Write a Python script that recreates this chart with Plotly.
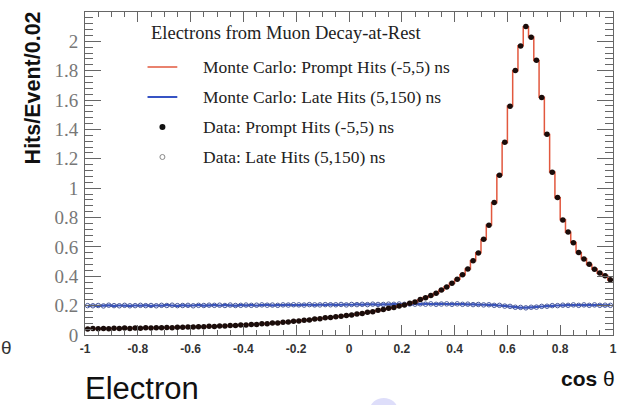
import plotly.graph_objects as go

# cos(theta) binning: 100 bins of width 0.02 on [-1, 1]
bin_centers = [round(-0.99 + 0.02 * i, 2) for i in range(100)]

# Monte Carlo, prompt hits (-5,5) ns  [hits/event/0.02]
mc_prompt = [
    0.042, 0.043, 0.043, 0.044, 0.044, 0.045, 0.045, 0.046, 0.046, 0.047,
    0.047, 0.048, 0.048, 0.049, 0.050, 0.050, 0.051, 0.052, 0.053, 0.054,
    0.055, 0.056, 0.057, 0.058, 0.059, 0.060, 0.062, 0.063, 0.065, 0.067,
    0.069, 0.071, 0.073, 0.075, 0.078, 0.080, 0.083, 0.086, 0.089, 0.093,
    0.096, 0.100, 0.104, 0.108, 0.112, 0.116, 0.120, 0.124, 0.128, 0.132,
    0.137, 0.142, 0.148, 0.154, 0.160, 0.167, 0.174, 0.181, 0.189, 0.197,
    0.206, 0.215, 0.225, 0.240, 0.255, 0.268, 0.285, 0.305, 0.328, 0.352,
    0.380, 0.410, 0.450, 0.505, 0.560, 0.650, 0.750, 0.900, 1.090, 1.310,
    1.560, 1.800, 1.970, 2.100, 2.030, 1.870, 1.620, 1.365, 1.110, 0.935,
    0.785, 0.700, 0.630, 0.560, 0.520, 0.480, 0.450, 0.420, 0.405, 0.375,
]

# Data, prompt hits (-5,5) ns
data_prompt = [
    0.041, 0.044, 0.042, 0.045, 0.043, 0.046, 0.044, 0.047, 0.045, 0.048,
    0.046, 0.049, 0.047, 0.050, 0.049, 0.051, 0.050, 0.053, 0.052, 0.055,
    0.054, 0.057, 0.056, 0.059, 0.058, 0.061, 0.061, 0.064, 0.064, 0.068,
    0.068, 0.072, 0.072, 0.076, 0.077, 0.081, 0.082, 0.087, 0.088, 0.094,
    0.095, 0.101, 0.103, 0.109, 0.111, 0.117, 0.119, 0.125, 0.127, 0.133,
    0.136, 0.143, 0.147, 0.155, 0.159, 0.168, 0.173, 0.182, 0.188, 0.198,
    0.205, 0.216, 0.224, 0.241, 0.254, 0.269, 0.284, 0.306, 0.327, 0.353,
    0.379, 0.411, 0.449, 0.506, 0.559, 0.652, 0.748, 0.902, 1.088, 1.312,
    1.558, 1.802, 1.968, 2.102, 2.028, 1.872, 1.618, 1.367, 1.108, 0.937,
    0.783, 0.702, 0.628, 0.562, 0.518, 0.482, 0.448, 0.422, 0.403, 0.377,
]

# Monte Carlo, late hits (5,150) ns
mc_late = [
    0.198, 0.201, 0.199, 0.200, 0.202, 0.199, 0.201, 0.200, 0.198, 0.201,
    0.200, 0.202, 0.199, 0.201, 0.200, 0.203, 0.201, 0.199, 0.202, 0.200,
    0.201, 0.203, 0.200, 0.202, 0.204, 0.201, 0.203, 0.202, 0.200, 0.203,
    0.202, 0.204, 0.201, 0.203, 0.205, 0.202, 0.204, 0.203, 0.205, 0.204,
    0.203, 0.205, 0.206, 0.204, 0.206, 0.205, 0.207, 0.205, 0.206, 0.207,
    0.206, 0.208, 0.207, 0.209, 0.208, 0.207, 0.209, 0.208, 0.210, 0.209,
    0.210, 0.209, 0.211, 0.210, 0.212, 0.211, 0.210, 0.212, 0.211, 0.210,
    0.211, 0.210, 0.209, 0.208, 0.207, 0.206, 0.205, 0.203, 0.201, 0.198,
    0.194, 0.190, 0.187, 0.186, 0.188, 0.191, 0.194, 0.197, 0.199, 0.201,
    0.202, 0.203, 0.204, 0.203, 0.204, 0.203, 0.204, 0.203, 0.202, 0.203,
]

# Data, late hits (5,150) ns
data_late = [
    0.200, 0.199, 0.201, 0.198, 0.203, 0.200, 0.199, 0.202, 0.199, 0.200,
    0.202, 0.200, 0.201, 0.199, 0.202, 0.201, 0.203, 0.200, 0.201, 0.202,
    0.199, 0.202, 0.201, 0.203, 0.202, 0.203, 0.201, 0.204, 0.201, 0.202,
    0.204, 0.202, 0.203, 0.205, 0.203, 0.204, 0.202, 0.205, 0.204, 0.206,
    0.205, 0.204, 0.207, 0.205, 0.205, 0.207, 0.206, 0.206, 0.208, 0.205,
    0.208, 0.207, 0.209, 0.207, 0.210, 0.208, 0.208, 0.210, 0.209, 0.211,
    0.209, 0.211, 0.210, 0.212, 0.210, 0.212, 0.209, 0.211, 0.212, 0.209,
    0.212, 0.209, 0.210, 0.207, 0.208, 0.205, 0.206, 0.202, 0.202, 0.197,
    0.195, 0.189, 0.188, 0.185, 0.189, 0.190, 0.195, 0.196, 0.200, 0.200,
    0.203, 0.202, 0.205, 0.202, 0.205, 0.202, 0.205, 0.202, 0.203, 0.202,
]

x_tick_vals = [-1, -0.8, -0.6, -0.4, -0.2, 0, 0.2, 0.4, 0.6, 0.8, 1]
x_tick_text = ["-1", "-0.8", "-0.6", "-0.4", "-0.2", "0", "0.2", "0.4", "0.6", "0.8", "1"]
y_tick_vals = [0, 0.2, 0.4, 0.6, 0.8, 1, 1.2, 1.4, 1.6, 1.8, 2]
y_tick_text = ["0", "0.2", "0.4", "0.6", "0.8", "1", "1.2", "1.4", "1.6", "1.8", "2"]

legend_header = "Electrons from Muon Decay-at-Rest"
legend_labels = [
    "Monte Carlo: Prompt Hits (-5,5) ns",
    "Monte Carlo: Late Hits (5,150) ns",
    "Data: Prompt Hits (-5,5) ns",
    "Data: Late Hits (5,150) ns",
]

RED = "#e2583e"
BLUE = "#3653c4"

W, H = 621, 405
L, R, T, B = 85, 4, 12, 70


def fx(p):
    """pixel column -> paper x"""
    return (p - L) / (W - L - R)


def fy(p):
    """pixel row -> paper y"""
    return (H - B - p) / (H - T - B)


fig = go.Figure()

fig.add_trace(go.Scatter(
    x=bin_centers, y=mc_late, mode="lines", line=dict(color=BLUE, width=2.2, shape="hvh"),
    name=legend_labels[1], showlegend=False, hoverinfo="skip"))
fig.add_trace(go.Scatter(
    x=bin_centers, y=data_late, mode="markers",
    marker=dict(symbol="circle-open", size=4.5, color="#4a5a9a", line=dict(width=1)),
    name=legend_labels[3], showlegend=False))
fig.add_trace(go.Scatter(
    x=bin_centers, y=mc_prompt, mode="lines", line=dict(color=RED, width=1.5, shape="hvh"),
    name=legend_labels[0], showlegend=False, hoverinfo="skip"))
fig.add_trace(go.Scatter(
    x=bin_centers, y=data_prompt, mode="markers",
    marker=dict(symbol="circle", size=5.5, color="#1a0c0a", line=dict(width=0)),
    name=legend_labels[2], showlegend=False))

axis_common = dict(
    showline=True, linecolor="#666", linewidth=1, mirror="ticks",
    ticks="inside", tickcolor="#666", tickwidth=1,
    showgrid=False, zeroline=False, tickmode="array",
)

fig.update_xaxes(
    **axis_common, range=[-1, 1], tickvals=x_tick_vals, ticktext=x_tick_text, ticklen=10,
    tickfont=dict(family="Liberation Sans", size=12, color="#333", weight="bold"),
    ticklabelstandoff=3,
    minor=dict(ticks="inside", tickmode="linear", tick0=-1, dtick=0.05, ticklen=5,
               tickcolor="#666", tickwidth=1),
)
fig.update_yaxes(
    **axis_common, range=[0, 2.2], tickvals=y_tick_vals, ticktext=y_tick_text, ticklen=16,
    tickfont=dict(family="Liberation Serif", size=19, color="#777"),
    ticklabelstandoff=2,
    minor=dict(ticks="inside", tickmode="linear", tick0=0, dtick=0.04, ticklen=8,
               tickcolor="#666", tickwidth=1),
)

annotations = []
shapes = []

# legend block
annotations.append(dict(
    x=fx(149), y=fy(33), xref="paper", yref="paper", xanchor="left", yanchor="middle",
    text=legend_header, showarrow=False,
    font=dict(family="Liberation Serif", size=18.5, color="#222")))
entry_rows = [67, 97, 127, 157]
for label, row in zip(legend_labels, entry_rows):
    annotations.append(dict(
        x=fx(202), y=fy(row), xref="paper", yref="paper", xanchor="left", yanchor="middle",
        text=label, showarrow=False,
        font=dict(family="Liberation Serif", size=17.5, color="#222")))
shapes.append(dict(type="line", xref="paper", yref="paper", x0=fx(148), x1=fx(178),
                   y0=fy(entry_rows[0]), y1=fy(entry_rows[0]), line=dict(color=RED, width=1.5)))
shapes.append(dict(type="line", xref="paper", yref="paper", x0=fx(148), x1=fx(178),
                   y0=fy(entry_rows[1]), y1=fy(entry_rows[1]), line=dict(color=BLUE, width=2)))
shapes.append(dict(type="circle", xref="paper", yref="paper", xsizemode="pixel", ysizemode="pixel",
                   xanchor=fx(163), yanchor=fy(entry_rows[2]), x0=-3, x1=3, y0=-3, y1=3,
                   fillcolor="#111", line=dict(width=0)))
shapes.append(dict(type="circle", xref="paper", yref="paper", xsizemode="pixel", ysizemode="pixel",
                   xanchor=fx(163), yanchor=fy(entry_rows[3]), x0=-2.5, x1=2.5, y0=-2.5, y1=2.5,
                   fillcolor="rgba(0,0,0,0)", line=dict(width=1, color="#888")))

# axis titles
annotations.append(dict(
    x=fx(33), y=fy(88), xref="paper", yref="paper", xanchor="center", yanchor="middle",
    text="Hits/Event/0.02", textangle=-90, showarrow=False,
    font=dict(family="Liberation Sans", size=21.5, color="#111", weight="bold")))
annotations.append(dict(
    x=fx(621), y=fy(378), xref="paper", yref="paper", xanchor="right", yanchor="middle",
    text="<b>cos</b> θ", showarrow=False,
    font=dict(family="Liberation Sans", size=21, color="#111")))
# theta of the neighbouring panel's axis title at the left edge
annotations.append(dict(
    x=fx(0), y=fy(347), xref="paper", yref="paper", xanchor="left", yanchor="middle",
    text="θ", showarrow=False, xshift=-2,
    font=dict(family="Liberation Sans", size=19, color="#333")))
# slide caption
annotations.append(dict(
    x=fx(83), y=fy(388), xref="paper", yref="paper", xanchor="left", yanchor="middle",
    text="Electron", showarrow=False,
    font=dict(family="Liberation Sans", size=31, color="#111")))

# soft slide decoration at the bottom edge
shapes.append(dict(type="circle", xref="paper", yref="paper", xsizemode="pixel", ysizemode="pixel",
                   xanchor=fx(386), yanchor=fy(410), x0=-14, x1=14, y0=-12, y1=12,
                   fillcolor="rgba(160,160,240,0.35)", line=dict(width=0), layer="below"))

fig.update_layout(
    width=W, height=H,
    margin=dict(l=L, r=R, t=T, b=B),
    paper_bgcolor="white", plot_bgcolor="white",
    showlegend=False,
    annotations=annotations, shapes=shapes,
)

fig.write_html("out.html")
